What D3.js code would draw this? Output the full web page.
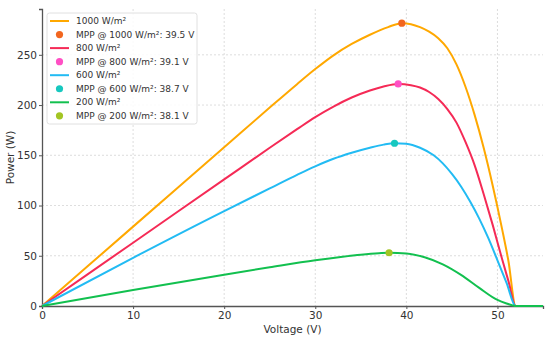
<!DOCTYPE html>
<html>
<head>
<meta charset="utf-8">
<script src="https://cdn.jsdelivr.net/npm/d3@7"></script>
<style>
  body { margin: 0; background: #fff; }
  svg { font-family: 'DejaVu Sans', sans-serif; }
</style>
</head>
<body>
<div id="chart"></div>
<script>
// values
const voltage1000 = [0, 10, 20, 25, 28, 30, 32, 34, 36, 38, 39.5, 40.5, 41.5, 42.5, 43.5, 44.5, 45.5, 46.5, 47.5, 48.5, 49.5, 50.5, 51.2, 52, 55];
const power1000 = [0, 79, 158, 197.5, 220.8, 235.8, 249.5, 260.8, 270, 277.6, 281.5, 280.5, 277.5, 273, 266.5, 256.5, 240.5, 218, 190, 157, 119, 77, 45, 0, 0];

const voltage800 = [0, 10, 20, 25, 28, 30, 32, 34, 36, 37.5, 39.1, 40.5, 41.5, 42.5, 43.5, 44.5, 45.5, 46.5, 47.5, 48.5, 49.5, 50.5, 51.2, 52, 55];
const power800 = [0, 63, 126, 157.5, 176, 188, 198.5, 207.5, 214.5, 218.5, 221, 219.8, 217.5, 213, 206, 196, 182.5, 163, 140, 111, 80, 47, 25, 0, 0];

const voltage600 = [0, 10, 20, 25, 28, 30, 32, 34, 36, 37.5, 38.7, 40, 41.5, 43, 44, 45, 46, 47, 48, 49, 50, 51, 52, 55];
const power600 = [0, 48, 94.5, 117, 130.5, 139, 146.5, 152.5, 157.5, 160.6, 162, 161.5, 157.5, 150, 142, 131.5, 119, 104, 87, 67.5, 45.5, 23, 0, 0];

const voltage200 = [0, 10, 20, 25, 30, 33, 35, 37, 38.1, 40, 42, 44, 46, 48, 50, 51, 52, 55];
const power200 = [0, 15.9, 31.2, 38.5, 45.5, 49, 51, 52.5, 53, 52.3, 48.5, 41.5, 31, 18, 6, 2.5, 0, 0];

const irradiances = ['1000', '800', '600', '200'];
const mppVoltages = [39.5, 39.1, 38.7, 38.1];
const mppPowers = [281.5, 221, 162, 53];
const lineColors = ['#ffa800', '#f52a56', '#22bbf3', '#12c04f'];
const dotColors = ['#f2661f', '#ff4fc4', '#17c8bf', '#a3c523'];

const xTicks = [0, 10, 20, 30, 40, 50];
const yTicks = [0, 50, 100, 150, 200, 250];

const series = [
  { v: voltage1000, p: power1000 },
  { v: voltage800, p: power800 },
  { v: voltage600, p: power600 },
  { v: voltage200, p: power200 },
];

const width = 550;
const height = 341;
const margin = { top: 9, right: 7, bottom: 35, left: 42 };
const innerW = width - margin.left - margin.right;
const innerH = height - margin.top - margin.bottom;

const svg = d3.select('#chart')
  .append('svg')
  .attr('width', width)
  .attr('height', height);

const g = svg.append('g')
  .attr('transform', `translate(${margin.left},${margin.top})`);

const x = d3.scaleLinear()
  .domain([0, 55])
  .range([0, innerW]);

const y = d3.scaleLinear()
  .domain([0, 295.6])
  .range([innerH, 0]);

// grid
g.append('g')
  .attr('class', 'grid')
  .selectAll('line.gx')
  .data(xTicks.slice(1))
  .enter()
  .append('line')
  .attr('x1', d => x(d))
  .attr('x2', d => x(d))
  .attr('y1', 0)
  .attr('y2', innerH)
  .attr('stroke', '#d4d4d4')
  .attr('stroke-width', 0.8)
  .attr('stroke-dasharray', '2,2');

g.append('g')
  .attr('class', 'grid')
  .selectAll('line.gy')
  .data(yTicks.slice(1))
  .enter()
  .append('line')
  .attr('x1', 0)
  .attr('x2', innerW)
  .attr('y1', d => y(d))
  .attr('y2', d => y(d))
  .attr('stroke', '#d4d4d4')
  .attr('stroke-width', 0.8)
  .attr('stroke-dasharray', '2,2');

// axes
const xAxis = g.append('g')
  .attr('transform', `translate(0,${innerH})`)
  .call(d3.axisBottom(x).tickValues(xTicks).tickSize(3).tickPadding(3));

const yAxis = g.append('g')
  .call(d3.axisLeft(y).tickValues(yTicks).tickSize(3).tickPadding(2));

[xAxis, yAxis].forEach(ax => {
  ax.select('.domain').attr('stroke', '#555').attr('stroke-width', 1.3);
  ax.selectAll('.tick line').attr('stroke', '#555');
  ax.selectAll('.tick text')
    .attr('fill', '#333')
    .style('font-size', '10.5px')
    .style('font-family', "'DejaVu Sans', sans-serif");
});

// curves
const line = d3.line()
  .x(d => x(d[0]))
  .y(d => y(d[1]))
  .curve(d3.curveMonotoneX);

g.append('g')
  .attr('class', 'lines')
  .selectAll('path')
  .data(series)
  .enter()
  .append('path')
  .attr('d', d => line(d.v.map((v, i) => [v, d.p[i]])))
  .attr('fill', 'none')
  .attr('stroke', (d, i) => lineColors[i])
  .attr('stroke-width', 2);

g.append('g')
  .attr('class', 'mpp')
  .selectAll('circle')
  .data(mppVoltages)
  .enter()
  .append('circle')
  .attr('cx', d => x(d))
  .attr('cy', (d, i) => y(mppPowers[i]))
  .attr('r', 3.6)
  .attr('fill', (d, i) => dotColors[i]);

// axis labels
svg.append('text')
  .attr('x', margin.left + innerW / 2)
  .attr('y', 333)
  .attr('text-anchor', 'middle')
  .attr('fill', '#333')
  .style('font-size', '10.5px')
  .text('Voltage (V)');

svg.append('text')
  .attr('transform', `translate(14,${margin.top + innerH / 2}) rotate(-90)`)
  .attr('text-anchor', 'middle')
  .attr('fill', '#333')
  .style('font-size', '10.5px')
  .text('Power (W)');

// legend
const legend = svg.append('g')
  .attr('transform', 'translate(47,13)');

legend.append('rect')
  .attr('width', 150)
  .attr('height', 111)
  .attr('rx', 2.5)
  .attr('fill', 'rgba(255,255,255,0.85)')
  .attr('stroke', '#d8d8d8')
  .attr('stroke-width', 0.8);

const legendItems = [];
irradiances.forEach((irr, i) => {
  legendItems.push({ kind: 'line', color: lineColors[i], label: `${irr} W/m²` });
  legendItems.push({ kind: 'dot', color: dotColors[i], label: `MPP @ ${irr} W/m²: ${mppVoltages[i].toFixed(1)} V` });
});

const rows = legend.selectAll('g.row')
  .data(legendItems)
  .enter()
  .append('g')
  .attr('class', 'row')
  .attr('transform', (d, i) => `translate(0,${8 + i * 13.55})`);

rows.filter(d => d.kind === 'line')
  .append('line')
  .attr('x1', 3)
  .attr('x2', 22)
  .attr('y1', 0)
  .attr('y2', 0)
  .attr('stroke', d => d.color)
  .attr('stroke-width', 2);

rows.filter(d => d.kind === 'dot')
  .append('circle')
  .attr('cx', 12.5)
  .attr('cy', 0)
  .attr('r', 3.6)
  .attr('fill', d => d.color);

rows.append('text')
  .attr('x', 29)
  .attr('y', 0)
  .attr('dy', '0.35em')
  .attr('fill', '#333')
  .style('font-size', '9px')
  .text(d => d.label);
</script>
</body>
</html>
